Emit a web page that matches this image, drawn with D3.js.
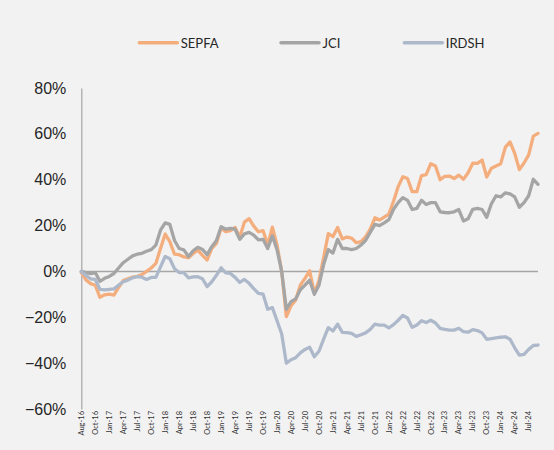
<!DOCTYPE html>
<html>
<head>
<meta charset="utf-8">
<script src="https://cdn.jsdelivr.net/npm/d3@7"></script>
<style>
  html, body { margin: 0; padding: 0; background: #f2f2f2; }
  svg { display: block; font-family: Lato, "Open Sans", sans-serif; }
  .y-axis text { font-size: 16px; fill: #262626; }
  .x-label { font-size: 7.5px; fill: #333; }
  .legend text { font-size: 13px; fill: #262626; }
</style>
</head>
<body>
<svg id="chart" width="554" height="450"></svg>
<script>
// monthly points, Aug 2016 .. Oct 2024 (cumulative return, %)
const sepfa = [-0.5, -3.7, -5.3, -6, -11.3, -10.2, -9.9, -10.3, -7, -4,
  -3.2, -2.5, -2.1, -1.4, 0, 1.5, 3.5, 10, 16.3, 13,
  7.5, 7.3, 6.3, 6, 7.8, 9.3, 7, 5, 10, 12.2,
  19, 17.3, 17.8, 19.2, 15, 21.5, 23, 19.8, 17.3, 17.8,
  11.5, 19.3, 11.5, 0, -19.7, -15, -12.5, -6, -3, 0.3,
  -9.5, -4, 6, 16.5, 15.2, 19.2, 14.2, 15, 14.5, 12.5,
  13, 15, 18.5, 23.4, 22.4, 23.7, 25, 30.6, 37, 41.3,
  40.5, 34.8, 34.8, 41.8, 42.2, 47, 46, 40, 41.5, 41.6,
  40.5, 42, 40.2, 43, 47.2, 47.1, 48.6, 41.2, 45, 46,
  47, 54.2, 56.5, 51.5, 44.4, 47.3, 50.8, 59, 60.2];

const jci = [0, -0.5, -1, -0.5, -4.3, -3, -2.2, -0.9, 1.5, 3.8,
  5.3, 6.8, 7.5, 7.9, 8.8, 9.5, 11.5, 18, 21.2, 20.5,
  13.5, 10, 9.4, 6.5, 9, 10.5, 9.6, 7.3, 10.8, 13.5,
  19.5, 18.4, 18.8, 18.4, 14, 16.4, 17, 15.8, 13.8, 14,
  10, 15.5, 9.5, 0, -16.5, -13.2, -12, -8, -6, -3.8,
  -10, -6, 3, 9.5, 8, 14, 10, 10, 9.5, 10,
  11.5, 13.5, 17, 20.5, 20, 21.2, 22.6, 27.1, 30, 32.2,
  31, 27, 27.5, 31, 29.2, 30, 30, 26, 25.7, 25.6,
  26, 27, 22, 23, 27.1, 27.5, 27, 23.6, 29.5, 33,
  32.5, 34.3, 33.8, 32.5, 28, 30, 33, 40.2, 38];

const irdsh = [0, -1.8, -3.2, -3.5, -7.8, -8, -7.8, -7.6, -6, -4.5,
  -3.8, -2.8, -2.3, -2.5, -3.5, -2.6, -2.6, 2, 6.5, 5.5,
  1.2, -0.5, -0.5, -2.8, -2.4, -2.3, -3.2, -6.6, -4.5, -1.7,
  1.6, -0.6, -0.9, -2.6, -4.8, -3.5, -5.2, -7.5, -9.6, -9.9,
  -16.5, -15.8, -21.5, -27.3, -40, -38.5, -37.6, -35.5, -34, -33.1,
  -37.2, -34.8, -29.5, -24.5, -26, -23, -26.6, -26.7, -27, -28.3,
  -27.6, -26.8, -25.3, -23, -23.4, -23.4, -24.6, -23.2, -21.3, -19.2,
  -20.3, -24.4, -23.4, -21.5, -22.3, -21.3, -22.5, -24.8, -25.3, -25.6,
  -25.6, -24.8, -26.3, -26.5, -25.4, -25.8, -26.8, -29.6, -29.3, -29,
  -28.7, -28.5, -29.6, -33.3, -36.5, -36.2, -34, -32.3, -32.1];

// one label every third point
const tickLabels = ["Aug-16", "Oct-16", "Jan-17", "Apr-17", "Jul-17", "Oct-17", "Jan-18", "Apr-18",
  "Jul-18", "Oct-18", "Jan-19", "Apr-19", "Jul-19", "Oct-19", "Jan-20", "Apr-20", "Jul-20",
  "Oct-20", "Jan-21", "Apr-21", "Jul-21", "Oct-21", "Jan-22", "Apr-22", "Jul-22", "Oct-22",
  "Jan-23", "Apr-23", "Jul-23", "Oct-23", "Jan-24", "Apr-24", "Jul-24"];
const labelStep = 3;
const yTicks = [-0.6, -0.4, -0.2, 0, 0.2, 0.4, 0.6, 0.8];

const series = [
  { name: "SEPFA", values: sepfa, color: "#f4ae7e" },
  { name: "JCI", values: jci, color: "#a5a5a5" },
  { name: "IRDSH", values: irdsh, color: "#adb9ca" },
];

const svg = d3.select("#chart");
const plot = { left: 81.3, right: 538, top: 88, bottom: 409 };

const x = d3.scaleLinear().domain([0, sepfa.length - 1]).range([plot.left, plot.right]);
const y = d3.scaleLinear().domain([-0.6, 0.8]).range([plot.bottom, plot.top]);

svg.append("rect").attr("width", 554).attr("height", 450).attr("fill", "#f2f2f2");

// y axis
const yAxis = svg.append("g")
  .attr("class", "y-axis")
  .attr("transform", `translate(${plot.left},0)`)
  .call(d3.axisLeft(y).tickValues(yTicks).tickSize(0).tickPadding(15).tickFormat(d3.format(".0%")));
yAxis.select(".domain").attr("stroke", "#a6a6a6").attr("stroke-width", 1.2);

// zero line
svg.append("line")
  .attr("x1", plot.left).attr("x2", plot.right)
  .attr("y1", y(0)).attr("y2", y(0))
  .attr("stroke", "#a6a6a6").attr("stroke-width", 1.5);

// x labels at the bottom, rotated
svg.append("g")
  .selectAll("text")
  .data(tickLabels)
  .join("text")
  .attr("class", "x-label")
  .attr("transform", (d, i) => `translate(${x(i * labelStep) + 2.7},${plot.bottom + 2}) rotate(-90)`)
  .attr("text-anchor", "end")
  .text((d) => d);

// lines
const line = d3.line()
  .x((d, i) => x(i))
  .y((d) => y(d / 100));

svg.append("g")
  .selectAll("path")
  .data(series)
  .join("path")
  .attr("d", (s) => line(s.values))
  .attr("fill", "none")
  .attr("stroke", (s) => s.color)
  .attr("stroke-width", 3.3)
  .attr("stroke-linejoin", "round")
  .attr("stroke-linecap", "round");

// legend
const legendX = [139.3, 281, 404.3];
const legend = svg.append("g").attr("class", "legend");
series.forEach((s, i) => {
  legend.append("line")
    .attr("x1", legendX[i]).attr("x2", legendX[i] + 38)
    .attr("y1", 42.7).attr("y2", 42.7)
    .attr("stroke", s.color).attr("stroke-width", 3.5)
    .attr("stroke-linecap", "round");
  legend.append("text")
    .attr("x", legendX[i] + 41.5)
    .attr("y", 47.5)
    .text(s.name);
});
</script>
</body>
</html>
